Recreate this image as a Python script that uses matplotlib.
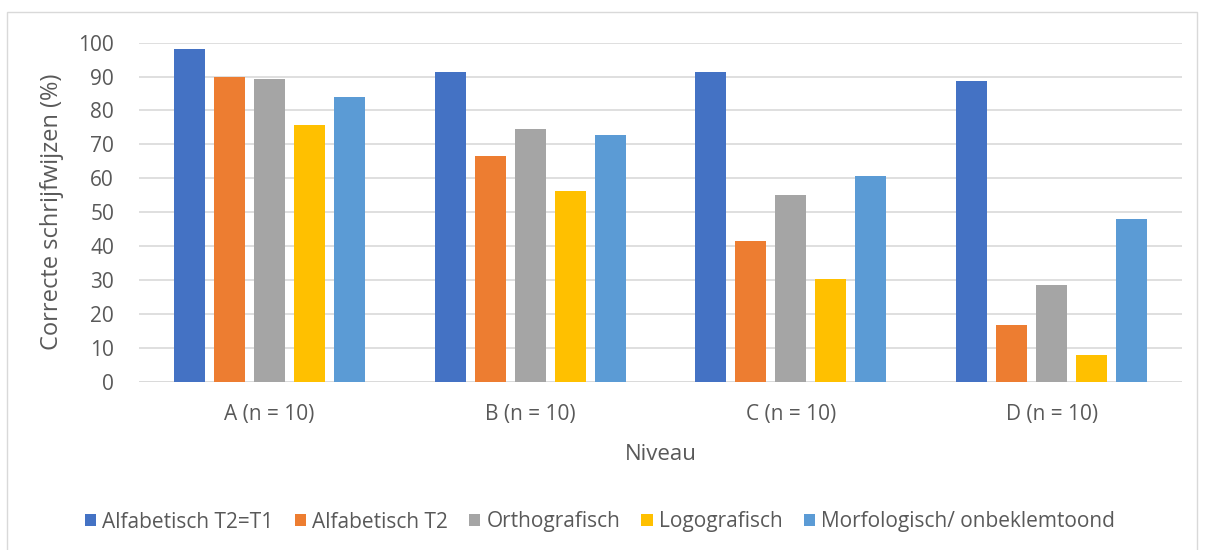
import matplotlib.pyplot as plt
import numpy as np
from matplotlib.patches import Rectangle

# Data
categories = ['A (n = 10)', 'B (n = 10)', 'C (n = 10)', 'D (n = 10)']
series_names = ['Alfabetisch T2=T1', 'Alfabetisch T2', 'Orthografisch',
                'Logografisch', 'Morfologisch/ onbeklemtoond']
alfabetisch_t2_t1 = [98.2, 91.5, 91.5, 88.7]
alfabetisch_t2 = [90.0, 66.6, 41.6, 16.7]
orthografisch = [89.4, 74.4, 55.2, 28.4]
logografisch = [75.7, 56.3, 30.4, 7.8]
morfologisch = [84.1, 72.9, 60.8, 47.9]
colors = ['#4472C4', '#ED7D31', '#A5A5A5', '#FFC000', '#5B9BD5']

plt.rcParams['font.family'] = ['Open Sans', 'DejaVu Sans']
text_color = '#595959'

fig = plt.figure(figsize=(12.05, 5.5), dpi=100)
ax = fig.add_axes([139 / 1205, 1 - 381.7 / 550, (1182 - 139) / 1205, (381.7 - 42.7) / 550])

# outer chart border
fig.patches.append(Rectangle((7 / 1205, -0.01), (1197 - 7) / 1205, (550 - 12) / 550 + 0.01,
                             transform=fig.transFigure, fill=False,
                             edgecolor='#d9d9d9', linewidth=1))

all_series = [alfabetisch_t2_t1, alfabetisch_t2, orthografisch, logografisch, morfologisch]
x = np.arange(len(categories))
pitch = 40 / 261
width = 31 / 261
for i, (name, vals) in enumerate(zip(series_names, all_series)):
    ax.bar(x + (i - 2) * pitch, vals, width, color=colors[i], label=name, zorder=3)

ax.set_xlim(-0.5, len(categories) - 0.5)
ax.set_ylim(0, 100)
ax.set_yticks(range(0, 101, 10))
ax.grid(axis='y', color='#d9d9d9', linewidth=1.2, zorder=0)
ax.axhline(0, color='#d9d9d9', linewidth=1.2, zorder=1)
for s in ax.spines.values():
    s.set_visible(False)
ax.tick_params(length=0, labelsize=15, colors=text_color)
ax.tick_params(axis='x', pad=16)
ax.tick_params(axis='y', pad=18)
ax.set_xticks(x)
ax.set_xticklabels(categories)

ax.set_ylabel('Correcte schrijfwijzen (%)', fontsize=17, color=text_color, labelpad=10)
ax.set_xlabel('Niveau', fontsize=16, color=text_color, labelpad=14)

handles, labels = ax.get_legend_handles_labels()
fig.legend(handles, labels, loc='center', bbox_to_anchor=(600 / 1205, 1 - 522 / 550),
           ncol=5, frameon=False, fontsize=15, labelcolor=text_color,
           handlelength=0.55, handleheight=0.55, handletextpad=0.3, columnspacing=1.0)

fig.savefig('out.png', dpi=100)
